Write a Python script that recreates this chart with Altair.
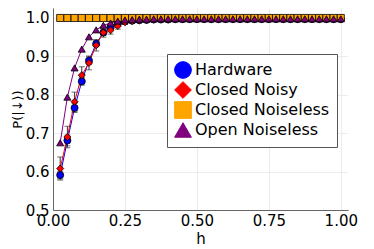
import altair as alt
import pandas as pd

h = [round(0.025 * (i + 1), 3) for i in range(40)]

series_names = ["Hardware", "Closed Noisy", "Closed Noiseless", "Open Noiseless"]
series_colors = ["#0000ff", "#ff0000", "#ffa500", "#800080"]
series_shapes = ["circle", "diamond", "square", "triangle-up"]

hardware = [0.591, 0.681, 0.766, 0.835, 0.889, 0.933, 0.962, 0.977, 0.986, 0.991,
            0.993, 0.994, 0.995, 0.996, 0.996, 0.996, 0.997, 0.997, 0.997, 0.997,
            0.997, 0.997, 0.997, 0.997, 0.997, 0.997, 0.997, 0.997, 0.997, 0.997,
            0.997, 0.997, 0.997, 0.997, 0.997, 0.997, 0.997, 0.997, 0.997, 0.997]
hardware_err = [0.010, 0.014, 0.012, 0.010, 0.010, 0.008, 0.007, 0.006, 0.005, 0.004,
                0.003, 0.003, 0.003, 0.002, 0.002, 0.002, 0.002, 0.002, 0.002, 0.002,
                0.002, 0.002, 0.002, 0.002, 0.002, 0.002, 0.002, 0.002, 0.002, 0.002,
                0.002, 0.002, 0.002, 0.002, 0.002, 0.002, 0.002, 0.002, 0.002, 0.002]
closed_noisy = [0.608, 0.690, 0.782, 0.851, 0.883, 0.929, 0.962, 0.968, 0.979, 0.989,
                0.992, 0.994, 0.995, 0.996, 0.996, 0.996, 0.997, 0.997, 0.997, 0.997,
                0.997, 0.997, 0.997, 0.997, 0.997, 0.997, 0.997, 0.997, 0.997, 0.997,
                0.997, 0.997, 0.997, 0.997, 0.997, 0.997, 0.997, 0.997, 0.997, 0.997]
closed_noisy_err = [0.030, 0.028, 0.025, 0.022, 0.018, 0.015, 0.012, 0.010, 0.008, 0.006,
                    0.005, 0.004, 0.004, 0.003, 0.003, 0.003, 0.003, 0.003, 0.003, 0.003,
                    0.003, 0.003, 0.003, 0.003, 0.003, 0.003, 0.003, 0.003, 0.003, 0.003,
                    0.003, 0.003, 0.003, 0.003, 0.003, 0.003, 0.003, 0.003, 0.003, 0.003]
closed_noiseless = [1.0] * 40
open_noiseless = [0.675, 0.794, 0.870, 0.919, 0.951, 0.969, 0.981, 0.987, 0.992, 0.995,
                  0.996, 0.997, 0.997, 0.998, 0.998, 0.998, 0.998, 0.998, 0.998, 0.998,
                  0.998, 0.998, 0.998, 0.998, 0.998, 0.998, 0.998, 0.998, 0.998, 0.998,
                  0.998, 0.998, 0.998, 0.998, 0.998, 0.998, 0.998, 0.998, 0.998, 0.998]

values = [hardware, closed_noisy, closed_noiseless, open_noiseless]
errors = [hardware_err, closed_noisy_err, None, None]

rows = []
for si, (name, vals, errs) in enumerate(zip(series_names, values, errors)):
    for i, x in enumerate(h):
        e = errs[i] if errs else None
        rows.append({"h": x, "P": vals[i], "series": name, "order": si,
                     "lo": vals[i] - e if e is not None else None,
                     "hi": vals[i] + e if e is not None else None})
df = pd.DataFrame(rows)
err_df = df.dropna(subset=["lo"])

xscale = alt.Scale(domain=[0, 1.025], nice=False, zero=False, padding=0)
yscale = alt.Scale(domain=[0.5, 1.026], nice=False, zero=False, padding=0)

xaxis = alt.Axis(values=[0, 0.25, 0.5, 0.75, 1.0], format=".2f", title="h",
                 ticks=False, labelPadding=3, titlePadding=3, labelFlush=False)
yaxis = alt.Axis(values=[0.5, 0.6, 0.7, 0.8, 0.9, 1.0], format=".1f", title="P(|↓⟩)",
                 ticks=False, labelPadding=4, titlePadding=1, labelFlush=False,
                 titleFontSize=13)

legend = alt.Legend(title=None, orient="none", legendX=114, legendY=46)
color_scale = alt.Scale(domain=series_names, range=series_colors)
shape_scale = alt.Scale(domain=series_names, range=series_shapes)

base = alt.Chart(df)

lines = base.mark_line(strokeWidth=1).encode(
    x=alt.X("h:Q", scale=xscale, axis=xaxis),
    y=alt.Y("P:Q", scale=yscale, axis=yaxis),
    color=alt.Color("series:N", scale=color_scale, legend=legend),
    detail="series:N",
)

errbars = alt.Chart(err_df).mark_errorbar(ticks=alt.MarkConfig(size=6, color="#333333"), color="#333333", thickness=1).encode(
    x=alt.X("h:Q", scale=xscale),
    y=alt.Y("lo:Q", scale=yscale, title="P(|↓⟩)"),
    y2="hi:Q",
)

points = base.mark_point(filled=True, stroke="black", strokeWidth=0.8, size=50, opacity=1).encode(
    x=alt.X("h:Q", scale=xscale),
    y=alt.Y("P:Q", scale=yscale),
    color=alt.Color("series:N", scale=color_scale, legend=legend),
    shape=alt.Shape("series:N", scale=shape_scale, legend=legend),
    order="order:Q",
)

chart = alt.layer(lines, errbars, points).properties(
    width=295, height=202,
    autosize=alt.AutoSizeParams(type="none"),
    padding={"left": 45, "top": 0, "right": 10, "bottom": 40},
).configure_view(stroke=None).configure_axis(
    labelFont="DejaVu Sans", titleFont="DejaVu Sans", labelFontSize=15, titleFontSize=15,
    titleFontWeight="normal", labelColor="black", titleColor="black",
    domainColor="#666666", gridColor="#ececec", grid=True,
).configure_legend(
    labelFont="DejaVu Sans", labelFontSize=16, labelColor="black",
    symbolSize=280, symbolStrokeColor="black", symbolStrokeWidth=1,
    fillColor="white", strokeColor="#555555", padding=7, rowPadding=-5, labelOffset=3,
    symbolOpacity=1,
)

chart.save("out.html", embed_options={"renderer": "svg", "actions": False})
